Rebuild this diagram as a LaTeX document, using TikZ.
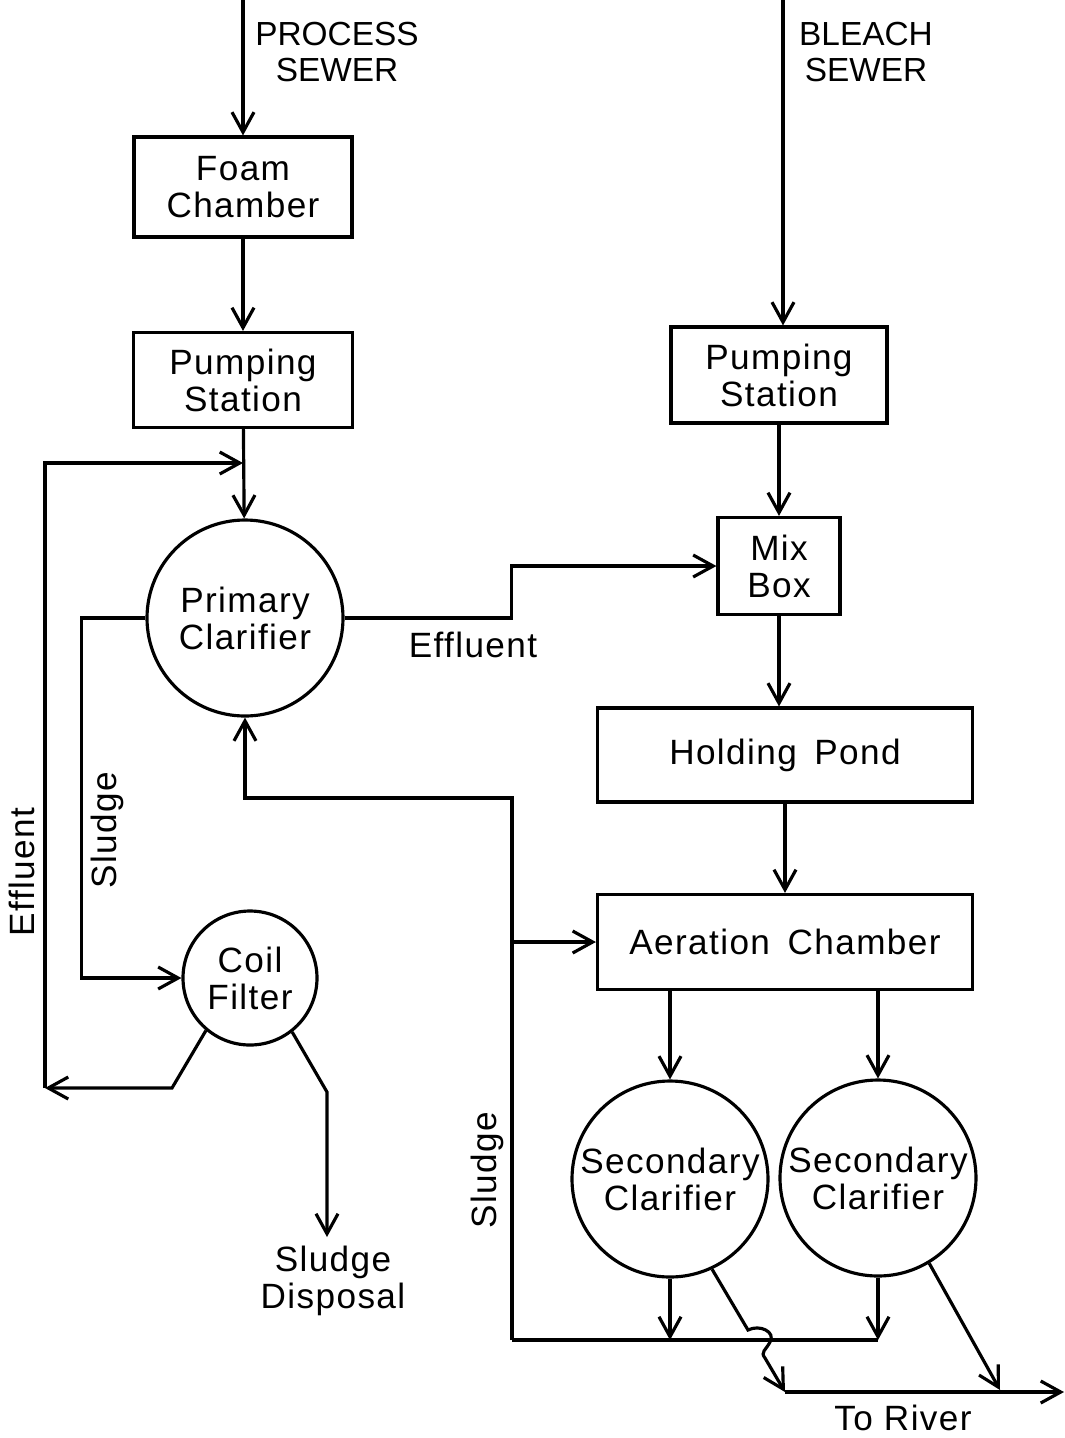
\documentclass[tikz,border=0pt]{standalone}
\usepackage{fontspec}
\setmainfont{Liberation Sans}[LetterSpace=4]
\newfontfamily\capsfont{Liberation Sans}
\usetikzlibrary{arrows.meta}

\begin{document}
\begin{tikzpicture}[
   x=0.1mm, y=-0.1mm,
   every node/.style={font=\fontsize{10}{10.5}\selectfont, align=center},
   unit/.style={draw, line width=0.9pt, inner sep=0pt},
   tank/.style={draw, circle, line width=0.9pt, inner sep=0pt},
   flow/.style={line width=0.9pt, -{Straight Barb[length=2mm,width=2.2mm,line width=0.9pt]}},
   pipe/.style={line width=0.9pt},
   lbl/.style={inner sep=1pt},
   caps/.style={inner sep=1pt, font=\capsfont\fontsize{9.5}{10.5}\selectfont}]

\useasboundingbox (0,0) rectangle (1065,1438);

% process side
\coordinate (psewer) at (243,0);
\node[caps] (ptext) at (337,52) {PROCESS\\SEWER};
\node[unit, minimum width=21.8mm, minimum height=10mm] (foam) at (243,187) {Foam\\Chamber};
\node[unit, minimum width=21.9mm, minimum height=9.5mm] (pumpA) at (243,380) {Pumping\\Station};
\node[tank, minimum size=19.6mm] (prim) at (245,618) {Primary\\Clarifier};
\node[tank, minimum size=13.4mm] (coil) at (250,978) {Coil\\Filter};
\coordinate (join) at (243,463);
\coordinate (effback) at (45,1088);
\coordinate (dispin) at (327,1237);
\node[lbl, anchor=north] (disp) at (333,1242) {Sludge\\Disposal};
\node[lbl, rotate=90] (effA) at (22,872) {Effluent};
\node[lbl, rotate=90] (sludgeA) at (107,830) {Sludge};
\node[lbl] (effB) at (473,645) {Effluent};

% bleach side
\coordinate (bsewer) at (783,0);
\node[caps] (btext) at (866,52) {BLEACH\\SEWER};
\node[unit, minimum width=21.6mm, minimum height=9.6mm] (pumpB) at (779,375) {Pumping\\Station};
\node[unit, minimum width=12.2mm, minimum height=9.7mm] (mix) at (779,566) {Mix\\Box};
\node[unit, minimum width=37.5mm, minimum height=9.4mm] (hold) at (785,755) {Holding\enspace Pond};
\node[unit, minimum width=37.5mm, minimum height=9.5mm] (aer) at (785,942) {Aeration\enspace Chamber};
\node[tank, minimum size=19.6mm] (secA) at (670,1179) {Secondary\\Clarifier};
\node[tank, minimum size=19.6mm] (secB) at (878,1178) {Secondary\\Clarifier};
\coordinate (sl) at (512,1340);
\coordinate (riverA) at (785,1392);
\coordinate (river) at (1064,1392);
\node[lbl, rotate=90] (sludgeB) at (487,1170) {Sludge};
\node[lbl] (rtext) at (903,1418) {To River};

\draw[flow] (psewer) -- (psewer |- foam.north);
\draw[flow] (foam) -- (pumpA);
\draw[flow] (pumpA) -- (prim);
\draw[flow] (prim.east) -- ++(167,0) |- (mix.west);
\draw[flow] (prim.west) -- ++(-64,0) |- (coil.west);
\draw[flow] (coil.230) -- (172,1088) -- (effback);
\draw[flow] (effback) |- (join);
\draw[flow] (coil.-52) -- (327,1092) -- (dispin);

\draw[flow] (bsewer) -- (bsewer |- pumpB.north);
\draw[flow] (pumpB) -- (mix);
\draw[flow] (mix) -- (mix |- hold.north);
\draw[flow] (hold) -- (aer);
\draw[flow] (aer.south -| secA) -- (secA);
\draw[flow] (aer.south -| secB) -- (secB);
\draw[flow] (secA) -- (secA |- sl);
\draw[flow] (secB) -- (secB |- sl);
\draw[pipe] (sl) -- (secB |- sl);
\draw[flow] (sl) -- (512,798) -| (prim.south);
\draw[flow] (sl |- aer.west) -- (aer.west);

\draw[flow] (secA.-65) -- (748,1330)
   .. controls (760,1324) and (776,1332) .. (770,1342)
   .. controls (766,1350) and (760,1352) .. (765,1358)
   -- (riverA);
\draw[flow] (riverA) -- (river);
\draw[flow] (secB.-59) -- (1000,1390);

\end{tikzpicture}
\end{document}
